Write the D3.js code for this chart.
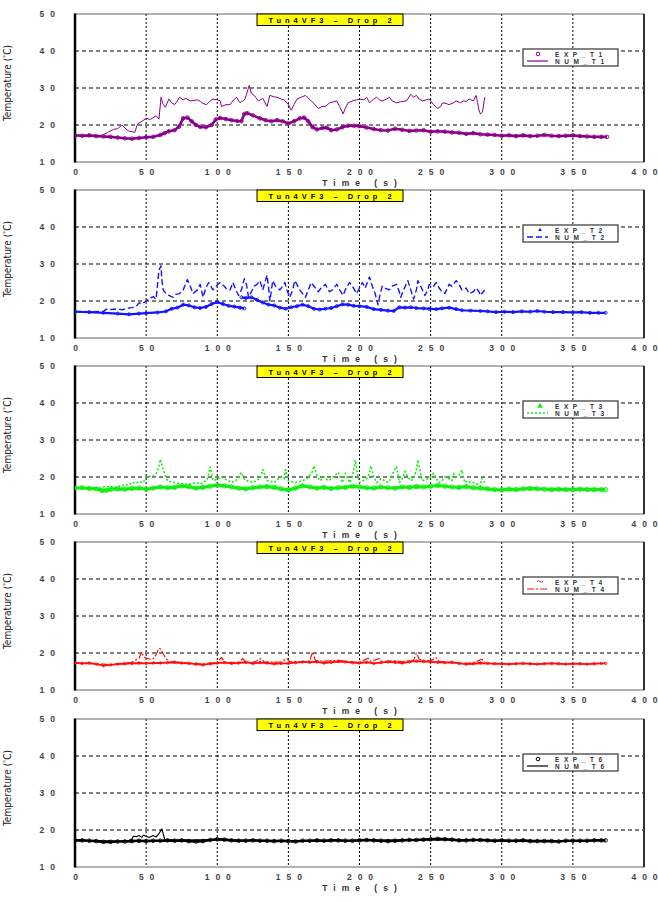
<!DOCTYPE html>
<html><head><meta charset="utf-8">
<script src="https://cdn.jsdelivr.net/npm/d3@7"></script>
<style>
html,body{margin:0;padding:0;background:#fff;}
svg{display:block;}
</style></head>
<body><svg id="chart" width="658" height="902"></svg>
<script>
// ---------- DATA ----------
const titleText = "Tun4VF3 – Drop 2";
const xTicks = [0, 50, 100, 150, 200, 250, 300, 350, 400];
const yTicks = [10, 20, 30, 40, 50];
const xLabel = "Time (s)";
const yLabel = "Temperature (";
const expNames = ["EXP_T1", "EXP_T2", "EXP_T3", "EXP_T4", "EXP_T6"];
const numNames = ["NUM_T1", "NUM_T2", "NUM_T3", "NUM_T4", "NUM_T6"];
const colors = ["#8a008a", "#1414ff", "#11ee11", "#ff0f0f", "#000000"];

const exp1 = [[0,17.2],[5,17.1],[10,17.2],[15,17.0],[20,16.9],[25,16.8],[30,16.6],[35,16.4],[40,16.3],[45,16.5],[50,16.7],[55,16.8],[60,17.3],[63,17.8],[66,18.3],[70,18.6],[73,19.5],[76,21.8],[79,22.0],[82,21.0],[85,20.0],[88,19.5],[92,19.4],[96,20.0],[99,21.5],[102,21.9],[106,21.6],[110,21.3],[114,21.1],[117,21.0],[119,23.0],[121,23.2],[125,22.6],[130,21.8],[134,21.3],[138,21.0],[142,21.3],[146,21.0],[150,20.4],[154,21.0],[158,21.8],[161,22.0],[164,21.0],[167,19.4],[170,18.8],[174,19.2],[177,19.3],[180,18.6],[184,18.8],[188,19.4],[192,19.8],[196,19.8],[200,19.7],[205,19.3],[210,18.9],[215,18.6],[220,18.5],[225,19.0],[230,18.7],[235,18.4],[240,18.5],[245,18.6],[250,18.2],[255,18.3],[260,18.2],[265,18.0],[270,17.9],[275,17.6],[280,17.8],[285,17.5],[290,17.4],[295,17.3],[300,17.1],[305,17.2],[310,17.0],[315,17.2],[320,17.0],[325,17.1],[330,17.3],[335,17.1],[340,17.0],[345,17.1],[350,17.2],[355,17.0],[360,16.9],[365,16.8],[370,16.8],[374,16.8]];
const num1 = [[0,17.2],[10,17.1],[19,17.2],[23,18.0],[27,18.8],[30,19.0],[33,20.0],[35,19.2],[37.5,18.4],[40,18.2],[42,18.0],[44,20.3],[47,21.0],[50,21.8],[53,21.5],[57,22.5],[59,21.6],[60.5,27.5],[62,25.5],[63.5,24.8],[66,27.0],[68,26.0],[70,25.5],[72,26.5],[73.5,27.5],[76,26.8],[78,27.2],[81,26.5],[83,26.6],[86,26.8],[88,26.4],[90,25.8],[92.5,25.5],[95,26.5],[97,27.0],[100,26.8],[102,26.6],[103,25.0],[106,25.5],[109,25.5],[111,26.5],[113.5,27.5],[116,26.0],[118,26.5],[119.5,27.0],[122.5,30.7],[124,28.5],[126,28.0],[129,26.5],[132,27.2],[135,25.0],[137,28.0],[140,27.6],[142,27.5],[145,27.0],[147,26.8],[150,25.5],[152,24.0],[154,25.5],[156,27.0],[159,27.5],[162,28.0],[164,27.3],[166,26.5],[168,25.8],[171,24.5],[174,25.0],[176,25.0],[179,26.0],[182,26.3],[184,26.5],[186,25.0],[188.5,23.0],[190,24.5],[192,26.0],[195,26.5],[198,26.8],[200,27.0],[203,26.8],[205,27.5],[207,26.0],[210,27.0],[212,27.5],[214,26.8],[216,26.5],[219,27.0],[221,27.5],[223,26.5],[226,26.0],[229,26.3],[233,26.5],[236,28.3],[238,27.5],[240,28.0],[242,27.0],[244.5,26.5],[247,26.8],[249,27.0],[252,25.5],[255,24.5],[257,25.0],[258.5,26.0],[261,25.8],[263,25.5],[266,26.0],[268,26.5],[271,26.0],[273,26.5],[275,26.4],[277,27.0],[280,26.5],[282,28.0],[283,26.0],[284,24.0],[285,23.0],[286.5,23.5],[288,27.5]];

const exp2 = [[0,17.1],[10,17.0],[20,16.8],[30,16.6],[38,16.4],[45,16.6],[50,16.7],[58,16.9],[64,17.2],[68,17.9],[72,18.2],[76,19.0],[80,18.8],[84,18.3],[88,18.1],[92,18.4],[96,19.2],[100,19.7],[104,19.2],[108,18.7],[112,18.5],[116,18.2],[119,18.0],[119.5,null],[117,21.0],[120,20.8],[124,21.0],[128,20.3],[132,19.6],[136,19.0],[140,18.8],[144,18.2],[148,17.9],[152,18.3],[156,18.6],[160,19.0],[164,18.6],[168,17.9],[172,17.7],[176,17.9],[180,18.1],[184,18.6],[188,19.1],[192,19.0],[196,18.7],[200,18.6],[205,18.4],[210,17.8],[215,17.6],[220,17.4],[224,17.3],[228,18.3],[232,18.2],[236,18.3],[240,18.1],[245,18.0],[249,17.9],[254,17.8],[258,18.0],[263,18.2],[268,17.8],[272,17.5],[278,17.4],[285,17.3],[290,17.2],[296,17.0],[302,17.1],[308,17.0],[314,17.2],[320,17.1],[325,17.3],[330,17.1],[336,17.0],[343,17.0],[350,16.9],[356,17.0],[362,16.8],[368,16.8],[373,16.8]];
const num2 = [[0,17.2],[10,17.1],[20,17.2],[22,17.8],[26,17.7],[30,17.9],[33,17.6],[36.5,18.0],[40,18.2],[43,18.5],[45,19.5],[47,19.2],[50,20.0],[52,20.6],[55,21.2],[57,20.5],[59,28.3],[60.5,29.5],[61,26.0],[62,23.0],[64,22.0],[66,21.5],[69,21.0],[71,21.8],[73.5,22.0],[76,23.0],[79,25.8],[81,24.0],[83,22.0],[86,23.0],[88,24.5],[90,21.0],[92,23.5],[94,25.0],[97,23.0],[99,24.0],[102,25.0],[105,24.0],[107,23.0],[109,23.0],[111,25.0],[113,23.0],[115,21.5],[117,23.0],[119,26.0],[120.5,24.5],[122,21.0],[124,22.5],[126,24.0],[128,24.5],[130,25.5],[132,23.0],[135,27.0],[136,24.0],[137,20.0],[139,25.5],[141,24.0],[144,23.0],[146,24.0],[147.5,25.0],[149,23.0],[151,21.0],[153,23.0],[154.5,25.5],[156,24.5],[158,23.0],[160,22.0],[162,21.0],[164,23.0],[166,25.0],[168,24.0],[171,22.5],[173,23.5],[176,24.5],[178,23.0],[179,22.5],[181,23.0],[184,24.5],[186,23.0],[188.5,21.5],[190,23.0],[193,25.0],[195,24.0],[198,22.0],[200,23.5],[202,25.0],[204,23.5],[207,26.5],[209,24.0],[211,22.0],[213,19.0],[214,21.0],[216,24.0],[218,23.5],[221,23.0],[223,24.0],[226,24.5],[228,22.5],[229,21.0],[231,23.0],[234,25.5],[236,23.0],[238,20.5],[240,23.0],[241,25.5],[243,24.0],[246,21.5],[248,23.0],[249,24.5],[252,24.0],[254,25.0],[256,23.5],[258,22.5],[260,22.0],[263,24.5],[265,24.0],[268,25.5],[270,24.5],[272,23.0],[275,23.5],[277,22.0],[280,22.5],[282,23.5],[284,22.5],[285,21.5],[287,22.5],[288,23.0]];

const exp3 = [[0,17.0],[5,17.1],[10,16.9],[15,16.8],[19,16.3],[22,16.4],[25,16.7],[30,16.8],[35,16.7],[40,16.9],[45,17.0],[50,16.7],[55,17.0],[60,17.3],[65,17.1],[70,17.2],[75,17.6],[80,17.4],[85,17.0],[90,17.2],[95,17.5],[100,17.8],[105,17.6],[110,17.3],[115,17.0],[120,16.8],[125,17.1],[130,17.3],[135,17.4],[140,17.2],[145,16.8],[150,16.5],[155,17.0],[160,17.6],[165,17.3],[170,17.0],[175,17.2],[180,16.9],[185,17.1],[190,17.2],[195,17.5],[200,17.3],[205,17.1],[210,17.0],[215,17.3],[220,17.1],[225,17.0],[230,17.3],[235,17.2],[240,17.4],[245,17.3],[250,17.5],[255,17.7],[260,17.5],[265,17.3],[270,17.2],[275,17.4],[280,17.1],[285,17.0],[290,16.8],[295,16.6],[300,16.5],[305,16.7],[310,16.6],[315,16.8],[320,16.9],[325,16.8],[330,16.7],[335,16.6],[340,16.7],[345,16.6],[350,16.6],[355,16.7],[360,16.6],[365,16.6],[370,16.6],[373,16.6]];
const num3 = [[0,17.0],[18,17.0],[20,17.3],[25,17.4],[28,17.2],[30,17.6],[33,17.5],[35,18.0],[38,17.8],[40,18.5],[43,18.3],[45,18.8],[48,18.5],[50,20.0],[53,20.2],[55,20.3],[57,21.0],[58,21.5],[59,23.0],[60,24.8],[61,23.5],[62,22.0],[64,20.0],[65,19.0],[68,18.7],[70,18.5],[75,18.2],[80,18.0],[85,18.5],[88,18.2],[90,18.3],[93,19.5],[95,22.7],[96,21.0],[97,19.0],[100,19.5],[103,20.0],[105,19.5],[108,19.0],[110,18.5],[113,19.0],[115,20.0],[117,21.2],[119,19.5],[120,19.0],[123,18.8],[125,18.5],[128,19.2],[130,19.5],[132,22.0],[134,20.0],[135,19.0],[138,18.8],[140,18.5],[143,19.5],[145,20.0],[147,19.5],[148,22.0],[150,19.0],[153,18.7],[155,18.5],[158,18.8],[160,19.0],[163,19.5],[165,20.5],[167,21.5],[168,23.0],[170,20.5],[172,19.0],[174,19.5],[175,20.0],[178,19.0],[180,19.5],[183,20.5],[185,21.3],[187,19.5],[188,18.5],[190,21.0],[192,19.5],[193,18.5],[195,20.0],[197,24.5],[199,20.0],[200,18.5],[202,19.0],[205,19.5],[207,21.0],[208,23.0],[210,20.0],[212,18.5],[215,19.5],[218,19.0],[220,18.5],[222,19.5],[224,21.5],[226,22.8],[228,18.5],[230,19.5],[232,21.5],[234,20.0],[236,19.0],[238,19.5],[240,22.0],[241,24.6],[243,21.0],[244,19.0],[246,19.2],[248,19.5],[250,20.0],[252,21.0],[254,19.5],[256,18.5],[258,19.0],[260,20.0],[263,19.5],[265,19.0],[266,21.0],[268,20.0],[270,20.5],[272,21.9],[274,18.5],[276,19.0],[278,18.5],[280,18.5],[283,18.0],[285,17.5],[286,19.6],[288,18.5]];

const exp4 = [[0,17.3],[5,17.2],[10,17.3],[15,17.0],[20,16.6],[25,16.8],[30,17.0],[35,17.1],[40,17.2],[45,17.3],[50,17.2],[55,17.3],[60,17.3],[65,17.4],[70,17.5],[75,17.3],[80,17.2],[85,17.0],[90,16.8],[95,17.1],[100,17.3],[105,17.4],[110,17.2],[115,17.3],[120,17.5],[125,17.2],[130,17.4],[135,17.3],[140,17.1],[145,17.2],[150,17.2],[155,17.4],[160,17.6],[165,17.5],[170,17.6],[175,17.3],[180,17.5],[185,17.7],[190,17.6],[195,17.4],[200,17.3],[205,17.5],[210,17.2],[215,17.4],[220,17.6],[225,17.5],[230,17.3],[235,17.6],[240,17.8],[245,17.7],[250,17.6],[255,17.5],[260,17.4],[265,17.5],[270,17.2],[275,17.0],[280,17.1],[285,17.3],[290,17.2],[295,17.1],[300,17.1],[305,17.0],[310,17.1],[315,17.2],[320,17.1],[325,17.0],[330,17.1],[335,17.2],[340,17.1],[345,17.0],[350,17.1],[355,17.1],[360,17.0],[365,17.1],[370,17.2],[373,17.2]];
const num4 = [[0,17.3],[20,17.0],[25,16.8],[30,17.1],[35,17.3],[40,17.5],[43,18.2],[45,18.6],[47,20.3],[48,19.0],[50,18.6],[53,18.3],[55,18.5],[57,19.5],[59,21.3],[60.5,21.0],[62,19.8],[64,18.5],[66,17.5],[70,17.6],[75,17.4],[80,17.3],[85,17.2],[90,17.0],[95,17.3],[100,17.4],[103,18.8],[105,17.6],[110,17.4],[115,17.5],[118,18.5],[120,17.5],[125,17.4],[131,18.5],[133,17.6],[140,17.5],[145,17.6],[149,18.5],[151,17.6],[155,17.7],[160,17.6],[165,17.8],[167,20.3],[169,18.0],[175,17.8],[180,17.9],[185,18.0],[190,17.8],[195,17.6],[200,17.5],[206,18.6],[208,17.7],[214,18.5],[216,17.6],[220,17.8],[225,17.9],[230,17.7],[235,17.9],[238,18.0],[240,20.0],[242,18.3],[245,18.0],[250,17.9],[254,18.7],[256,17.8],[260,17.6],[265,17.4],[270,17.3],[275,17.2],[280,17.4],[286,18.3],[288,17.6]];

const exp6 = [[0,17.2],[5,17.2],[10,17.1],[15,17.0],[20,16.8],[25,16.8],[30,16.9],[35,16.9],[40,17.0],[45,17.1],[50,17.0],[55,17.1],[60,17.1],[65,17.2],[70,17.1],[75,17.2],[80,17.0],[85,16.9],[90,17.0],[95,17.3],[100,17.5],[105,17.4],[110,17.2],[115,17.1],[120,17.1],[125,17.2],[130,17.1],[135,17.1],[140,17.0],[145,17.1],[150,17.0],[155,16.9],[160,17.1],[165,17.1],[170,17.2],[175,17.1],[180,17.2],[185,17.2],[190,17.1],[195,17.1],[200,17.2],[205,17.3],[210,17.2],[215,17.1],[220,17.0],[225,17.1],[230,17.2],[235,17.3],[240,17.3],[245,17.4],[250,17.5],[255,17.6],[260,17.5],[265,17.4],[270,17.2],[275,17.2],[280,17.3],[285,17.3],[290,17.2],[295,17.1],[300,17.2],[305,17.1],[310,17.1],[315,17.2],[320,17.0],[325,17.0],[330,17.0],[335,17.0],[340,16.9],[345,17.1],[350,17.1],[355,17.1],[360,17.1],[365,17.2],[370,17.2],[373,17.2]];
const num6 = [[0,17.2],[30,17.0],[38,17.2],[40,17.6],[41,18.3],[43,18.2],[45,18.5],[47,18.0],[48,18.6],[50,18.3],[52,18.0],[55,18.5],[57,18.1],[59,19.0],[61,20.3],[62,19.0],[63,17.5],[65,17.4],[70,17.3],[100,17.4],[150,17.1],[200,17.2],[250,17.4],[288,17.2]];

const expSeries = [exp1, exp2, exp3, exp4, exp6];
const numSeries = [num1, num2, num3, num4, num6];

// ---------- LAYOUT / STYLE ----------
const panelTops = [14, 190, 366, 542, 719];
const plotH = 148, plotL = 75, plotR = 644;
const numDash = [null, "6,3", "2,2", "7,2,2,2", null];
const numWidth = [1, 1.4, 1.6, 1.2, 1.1];
const expWidth = [2.6, 2.2, 3.2, 1.8, 2.6];
const expMarker = ["circle", "triangle", "triangle", "tilde", "circle"];
const FONT = "Liberation Sans, Arial, sans-serif";
// spaced digits (en space + thin space between characters)
const spaced = d => String(d).split("").join("\u2002\u2009");

const svg = d3.select("#chart");
const x = d3.scaleLinear().domain([0, 400]).range([plotL, plotR]);

panelTops.forEach((top, i) => {
  const y = d3.scaleLinear().domain([10, 50]).range([top + plotH, top]);
  const g = svg.append("g");
  const col = colors[i];

  // grid
  g.append("g").selectAll("line").data([20, 30, 40]).join("line")
    .attr("x1", plotL).attr("x2", plotR).attr("y1", d => y(d)).attr("y2", d => y(d))
    .attr("stroke", "#000").attr("stroke-width", 1).attr("stroke-dasharray", "4,3");
  g.append("g").selectAll("line").data([50, 100, 150, 200, 250, 300, 350]).join("line")
    .attr("y1", top).attr("y2", top + plotH).attr("x1", d => x(d)).attr("x2", d => x(d))
    .attr("stroke", "#000").attr("stroke-width", 1).attr("stroke-dasharray", "2,2");

  // frame
  g.append("rect").attr("x", plotL).attr("y", top).attr("width", plotR - plotL).attr("height", plotH)
    .attr("fill", "none").attr("stroke", "#666").attr("stroke-width", 1);
  g.append("line").attr("x1", plotR).attr("x2", plotR).attr("y1", top).attr("y2", top + plotH)
    .attr("stroke", "#333").attr("stroke-width", 2);
  g.append("line").attr("x1", plotL).attr("x2", plotL).attr("y1", top - 0.5).attr("y2", top + plotH + 0.5)
    .attr("stroke", "#000").attr("stroke-width", 2.5);

  // axes
  const ax = g.append("g").attr("transform", `translate(0,${top + plotH})`)
    .call(d3.axisBottom(x).tickValues(xTicks).tickSize(0).tickPadding(7).tickFormat(spaced));
  ax.select(".domain").remove();
  ax.selectAll("text").attr("font-family", FONT).attr("font-size", 8.5)
    .attr("font-weight", "bold").attr("fill", "#444");

  const ay = g.append("g").attr("transform", `translate(${plotL},0)`)
    .call(d3.axisLeft(y).tickValues(yTicks).tickSize(0).tickPadding(20).tickFormat(spaced));
  ay.select(".domain").remove();
  ay.selectAll("text").attr("font-family", FONT).attr("font-size", 8.5)
    .attr("font-weight", "bold").attr("fill", "#444");

  // x label
  g.append("text").attr("x", (plotL + plotR) / 2 + 3).attr("y", top + plotH + 24)
    .attr("text-anchor", "middle").attr("font-family", FONT)
    .attr("font-size", 8.5).attr("font-weight", "bold").attr("fill", "#333")
    .style("letter-spacing", "6px").text(xLabel);

  // y label
  const yl = g.append("text").attr("transform", `translate(11,${top + plotH / 2 - 5}) rotate(-90)`)
    .attr("text-anchor", "middle")
    .attr("font-family", "Liberation Sans Narrow, DejaVu Sans Condensed, Arial Narrow, sans-serif")
    .attr("font-size", 10).attr("fill", "#222");
  yl.append("tspan").text(yLabel);
  yl.append("tspan").attr("dy", -3).attr("font-size", 6.5).text("°");
  yl.append("tspan").attr("dy", 3).text("C)");

  // data clip
  const clipId = "clip" + i;
  svg.append("clipPath").attr("id", clipId).append("rect")
    .attr("x", plotL).attr("y", top).attr("width", plotR - plotL).attr("height", plotH);
  const dg = g.append("g").attr("clip-path", `url(#${clipId})`);

  const line = d3.line().defined(d => d[1] != null).x(d => x(d[0])).y(d => y(d[1]));
  const pts = expSeries[i].filter(d => d[1] != null);

  // EXP series (markers, dense)
  dg.append("path").datum(expSeries[i]).attr("d", line).attr("fill", "none")
    .attr("stroke", col).attr("stroke-width", expWidth[i]).attr("stroke-linejoin", "round");
  dg.append("g").selectAll("circle").data(pts).join("circle")
    .attr("cx", d => x(d[0])).attr("cy", d => y(d[1])).attr("r", expWidth[i] * 0.7)
    .attr("fill", "none").attr("stroke", col).attr("stroke-width", 0.9);

  // NUM series
  dg.append("path").datum(numSeries[i]).attr("d", line).attr("fill", "none")
    .attr("stroke", col).attr("stroke-width", numWidth[i])
    .attr("stroke-dasharray", numDash[i]).attr("stroke-linejoin", "round");

  // title box
  const tb = g.append("g");
  tb.append("rect").attr("x", 257).attr("y", top).attr("width", 146).attr("height", 11.5)
    .attr("fill", "#ffff00").attr("stroke", "#000").attr("stroke-width", 1);
  tb.append("text").attr("x", 332).attr("y", top + 8.6).attr("text-anchor", "middle")
    .attr("font-family", FONT).attr("font-size", 7.5)
    .attr("font-weight", "bold").attr("fill", "#000").style("letter-spacing", "4px").text(titleText);

  // legend
  const lx = 523, lw = 95, lt = y(40) - 2, lh = 17;
  const lg = g.append("g");
  lg.append("rect").attr("x", lx).attr("y", lt).attr("width", lw).attr("height", lh)
    .attr("fill", "#fff").attr("stroke", "#333").attr("stroke-width", 1.2);
  const r1 = lt + 5, r2 = lt + 12;
  if (expMarker[i] === "circle") {
    lg.append("circle").attr("cx", 538).attr("cy", r1).attr("r", 1.8)
      .attr("fill", "none").attr("stroke", col).attr("stroke-width", 1);
  } else if (expMarker[i] === "triangle") {
    lg.append("path").attr("transform", `translate(540,${r1})`)
      .attr("d", d3.symbol(d3.symbolTriangle, i === 2 ? 14 : 6)()).attr("fill", col);
  } else {
    lg.append("path").attr("d", `M537,${r1 - 0.5} q1.5,-1.5 3,0 q1.5,1.5 3,0`)
      .attr("fill", "none").attr("stroke", col).attr("stroke-width", 1);
  }
  lg.append("line").attr("x1", 527).attr("x2", 548).attr("y1", r2).attr("y2", r2)
    .attr("stroke", col).attr("stroke-width", Math.max(1.2, numWidth[i]))
    .attr("stroke-dasharray", numDash[i]);
  [[expNames[i], r1], [numNames[i], r2]].forEach(([t, yy]) => {
    lg.append("text").attr("x", 555).attr("y", yy + 2.5)
      .attr("font-family", FONT).attr("font-size", 6.5)
      .attr("font-weight", "bold").attr("fill", "#333").style("letter-spacing", "4.6px").text(t);
  });
});
</script>
</body></html>
